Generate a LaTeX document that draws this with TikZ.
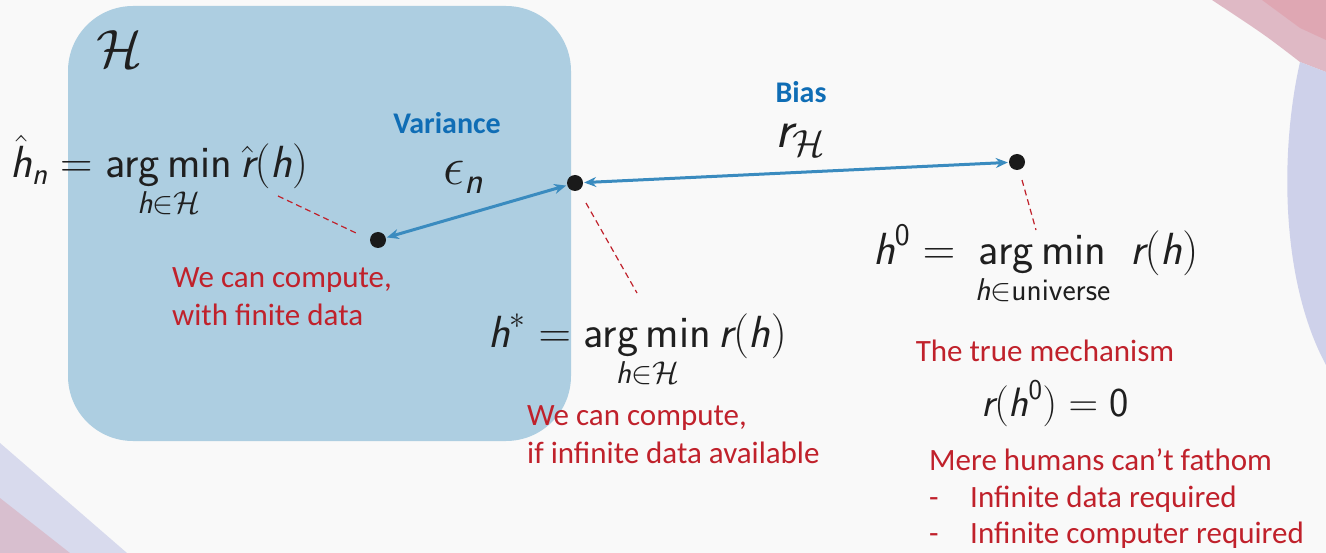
\RequirePackage{fix-cm}
\documentclass[tikz,border=0pt]{standalone}
\usepackage{amsmath}
\usepackage{fontspec}
\newfontfamily\carl{Carlito}
\usetikzlibrary{arrows.meta}
\newcommand\mi[1]{\text{\sffamily\itshape #1}}
\newcommand\mup[1]{\text{\sffamily #1}}
\newcommand\amin{\mathop{\text{\sffamily arg\,min}}\limits}
\definecolor{bgc}{HTML}{F9F9F9}
\definecolor{boxc}{HTML}{ADCEE1}
\definecolor{arrc}{HTML}{3A8BBF}
\definecolor{redt}{HTML}{C0212B}
\definecolor{bluet}{HTML}{0F6DB5}
\definecolor{dotc}{HTML}{1A1A1A}
\definecolor{decpink}{HTML}{D9AAB8}
\definecolor{declav}{HTML}{CACDE9}
\tikzset{
  dotn/.style={circle,fill=dotc,inner sep=0pt,minimum size=16pt},
  conn/.style={draw=arrc,line width=3pt,{Stealth[length=12pt,width=10pt]}-{Stealth[length=12pt,width=10pt]},shorten <=1pt,shorten >=1pt},
  lead/.style={draw=redt,line width=1.2pt,dash pattern=on 6pt off 4pt},
  redtxt/.style={text=redt,font=\carl\fontsize{31}{38}\selectfont,align=left,inner sep=0pt},
  bluetxt/.style={text=bluet,font=\carl\bfseries\fontsize{30}{34}\selectfont,inner sep=0pt},
  mathtxt/.style={text=black!88,font=\sffamily\fontsize{45}{50}\selectfont,inner sep=0pt},
  bigmath/.style={mathtxt,font=\sffamily\fontsize{54}{58}\selectfont}
}
\begin{document}
\begin{tikzpicture}[x=1pt,y=-1pt]
\fill[bgc] (0,0) rectangle (1326,553);
\useasboundingbox (0,0) rectangle (1326,553);
% decorations
\fill[decpink,opacity=0.8] (1212,0) -- (1326,0) -- (1326,72) -- (1300,62) .. controls (1265,35) .. (1212,0) -- cycle;
\fill[decpink!80!red,opacity=0.35] (1262,0) -- (1326,0) -- (1326,40) -- (1300,28) -- cycle;
\fill[declav,opacity=0.9] (1326,72) -- (1300,62) .. controls (1280,150) and (1280,280) .. (1326,365) -- cycle;
\fill[declav,opacity=0.7] (0,443) -- (127,553) -- (0,553) -- cycle;
\fill[decpink,opacity=0.55] (0,498) -- (70,553) -- (0,553) -- cycle;
% box
\fill[boxc,rounded corners=65pt] (68,6) rectangle (571,441);
% dots
\node[dotn] (d1) at (378,240) {};
\node[dotn] (d2) at (575,183) {};
\node[dotn] (d3) at (1017,162) {};
\draw[conn] (d1) -- (d2);
\draw[conn] (d2) -- (d3);
% leaders
\coordinate (l1a) at (278,196); \coordinate (l1b) at (356,233);
\coordinate (l2a) at (586,203); \coordinate (l2b) at (637,293);
\coordinate (l3a) at (1022,180); \coordinate (l3b) at (1036,230);
\draw[lead] (l1a) -- (l1b);
\draw[lead] (l2a) -- (l2b);
\draw[lead] (l3a) -- (l3b);
% labels
\node[bigmath,anchor=base west] (H) at (96,68) {$\mathcal{H}$};
\node[mathtxt,anchor=base west] (hn) at (10,178) {$\displaystyle \hat{\mi{h}}_{\mi{n}} = \amin_{\mi{h}\in\mathcal{H}} \hat{\mi{r}}(\mi{h})$};
\node[bluetxt] (var) at (447,123) {Variance};
\node[bigmath,anchor=base west] (eps) at (443,185) {$\epsilon_{\mi{n}}$};
\node[bluetxt] (bias) at (801,92) {Bias};
\node[bigmath,anchor=base west] (rH) at (775,148) {$\mi{r}_{\mathcal{H}}$};
\node[mathtxt,anchor=base west] (h0) at (873,265) {$\displaystyle \mi{h}^{\mup{0}} = \, \amin_{\mi{h}\in\mup{universe}} \; \mi{r}(\mi{h})$};
\node[redtxt,anchor=base west] (fin) at (172,326) {We can compute,\\with finite data};
\node[mathtxt,anchor=base west] (hs) at (488,348) {$\displaystyle \mi{h}^* = \amin_{\mi{h}\in\mathcal{H}} \mi{r}(\mi{h})$};
\node[redtxt,anchor=base west] (inf) at (527,463) {We can compute,\\if infinite data available};
\node[redtxt,anchor=base] (true) at (1045,362) {The true mechanism};
\node[mathtxt,anchor=base,font=\sffamily\fontsize{41}{46}\selectfont] (r0) at (1055,417) {$\mi{r}(\mi{h}^{\mup{0}}) = \mup{0}$};
\node[redtxt,anchor=base west] (mere) at (929,470) {Mere humans can’t fathom};
\node[redtxt,anchor=base west] (dash1) at (929,507) {-};
\node[redtxt,anchor=base west] (it1) at (970,507) {Infinite data required};
\node[redtxt,anchor=base west] (dash2) at (929,543) {-};
\node[redtxt,anchor=base west] (it2) at (970,543) {Infinite computer required};
\end{tikzpicture}
\end{document}
